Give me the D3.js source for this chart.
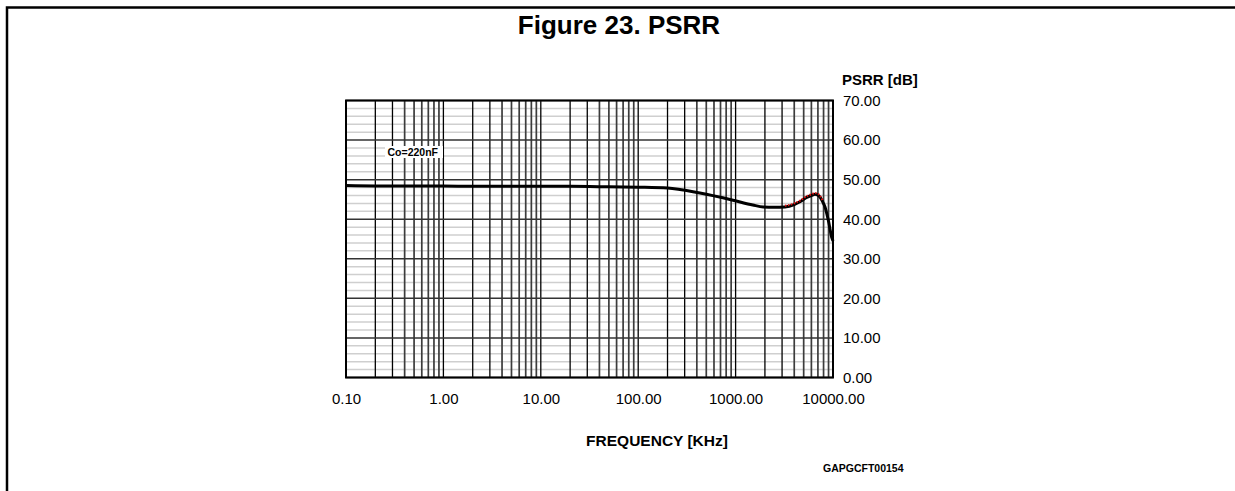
<!DOCTYPE html>
<html>
<head>
<meta charset="utf-8">
<script src="https://cdn.jsdelivr.net/npm/d3@7"></script>
<style>
  body { margin: 0; background: #fff; }
  svg { display: block; font-family: "Liberation Sans", Arial, sans-serif; }
</style>
</head>
<body>
<div id="chart"></div>
<script>
// curve (frequency in kHz, PSRR in dB)
var freq = [0.1, 0.2, 0.5, 1, 2, 5, 10, 20, 50, 100, 200, 430, 940, 1500, 1925, 2500, 3215, 4000, 4580, 5370, 6000, 6530, 7000, 7360, 7800, 8280, 8960, 9680, 10000];
var psrr = [48.5, 48.4, 48.4, 48.4, 48.3, 48.3, 48.3, 48.3, 48.2, 48.1, 47.9, 46.6, 44.8, 43.6, 43.1, 43.0, 43.1, 43.7, 44.4, 45.5, 46.0, 46.3, 46.1, 45.6, 44.5, 43.1, 39.7, 35.5, 34.5];
// red dotted piece laid over the peak
var redFreq = [3215, 4000, 4580, 5370, 6000, 6530, 7000, 7360, 7800];
var redPsrr = [43.4, 44.0, 44.7, 45.8, 46.3, 46.6, 46.4, 45.9, 44.8];

var xTicks = [0.1, 1, 10, 100, 1000, 10000];
var yTicks = [0, 10, 20, 30, 40, 50, 60, 70];

var W = 1235, H = 491;
var plot = {left: 346, right: 833, top: 100.5, bottom: 377.5};

var svg = d3.select("#chart").append("svg")
    .attr("width", W)
    .attr("height", H);

// page frame (left and top edges only)
svg.append("path")
    .attr("d", "M7,491 V7.5 H1235")
    .attr("fill", "none")
    .attr("stroke", "#000")
    .attr("stroke-width", 2.5);

svg.append("text")
    .attr("x", 619)
    .attr("y", 34)
    .attr("text-anchor", "middle")
    .style("font-size", "26px")
    .style("font-weight", "bold")
    .text("Figure 23. PSRR");

var x = d3.scaleLog().domain([0.1, 10000]).range([plot.left, plot.right]);
var y = d3.scaleLinear().domain([0, 70]).range([plot.bottom, plot.top]);

var grid = svg.append("g").attr("class", "grid");

// horizontal minor lines every 2 dB
d3.range(0, 71, 2).filter(function(v) { return v % 10 != 0; }).forEach(function(v) {
  grid.append("line")
      .attr("x1", plot.left).attr("x2", plot.right)
      .attr("y1", y(v)).attr("y2", y(v))
      .attr("stroke", "#cfcfcf")
      .attr("stroke-width", 1.5);
});

// vertical log lines
var vlines = [];
[0.1, 1, 10, 100, 1000].forEach(function(d) {
  for (var k = 1; k <= 9; k++) vlines.push({v: d * k, k: k});
});
vlines.forEach(function(l) {
  grid.append("line")
      .attr("x1", x(l.v)).attr("x2", x(l.v))
      .attr("y1", plot.top).attr("y2", plot.bottom)
      .attr("stroke", l.k <= 3 ? "#000" : "#3c3c3c")
      .attr("stroke-width", l.k <= 3 ? 1.3 : 1.7);
});

// horizontal major lines
yTicks.forEach(function(v) {
  grid.append("line")
      .attr("x1", plot.left).attr("x2", plot.right)
      .attr("y1", y(v)).attr("y2", y(v))
      .attr("stroke", "#333")
      .attr("stroke-width", 1.5);
});

svg.append("rect")
    .attr("x", plot.left)
    .attr("y", plot.top)
    .attr("width", plot.right - plot.left)
    .attr("height", plot.bottom - plot.top)
    .attr("fill", "none")
    .attr("stroke", "#000")
    .attr("stroke-width", 2);

// label box
svg.append("rect")
    .attr("x", 385).attr("y", 146)
    .attr("width", 58).attr("height", 12)
    .attr("fill", "#fff");
svg.append("text")
    .attr("x", 387.5)
    .attr("y", 155.5)
    .style("font-size", "10.5px")
    .style("font-weight", "bold")
    .text("Co=220nF");

var line = d3.line()
    .x(function(d) { return x(d[0]); })
    .y(function(d) { return y(d[1]); })
    .curve(d3.curveMonotoneX);

svg.append("path")
    .datum(d3.zip(freq, psrr))
    .attr("d", line)
    .attr("fill", "none")
    .attr("stroke", "#000")
    .attr("stroke-width", 3);

svg.append("path")
    .datum(d3.zip(redFreq, redPsrr))
    .attr("d", line)
    .attr("fill", "none")
    .attr("stroke", "#e01010")
    .attr("stroke-width", 2)
    .attr("stroke-dasharray", "1.5,1.5");

// axes
var xAxis = svg.append("g")
    .attr("transform", "translate(0," + plot.bottom + ")")
    .call(d3.axisBottom(x).tickValues(xTicks).tickSize(0).tickPadding(16).tickFormat(d3.format(".2f")));
xAxis.select(".domain").remove();
xAxis.selectAll("text")
    .attr("fill", "#000")
    .style("font-size", "15px")
    .style("font-family", "Liberation Sans, Arial, sans-serif");

var yAxis = svg.append("g")
    .attr("transform", "translate(" + plot.right + ",0)")
    .call(d3.axisRight(y).tickValues(yTicks).tickSize(0).tickPadding(10).tickFormat(d3.format(".2f")));
yAxis.select(".domain").remove();
yAxis.selectAll("text")
    .attr("fill", "#000")
    .style("font-size", "15px")
    .style("font-family", "Liberation Sans, Arial, sans-serif");

svg.append("text")
    .attr("x", 842)
    .attr("y", 85)
    .style("font-size", "15px")
    .style("font-weight", "bold")
    .text("PSRR [dB]");

svg.append("text")
    .attr("x", 657)
    .attr("y", 446)
    .attr("text-anchor", "middle")
    .style("font-size", "15.5px")
    .style("font-weight", "bold")
    .text("FREQUENCY [KHz]");

svg.append("text")
    .attr("x", 823)
    .attr("y", 471.5)
    .style("font-size", "10.5px")
    .style("font-weight", "bold")
    .text("GAPGCFT00154");
</script>
</body>
</html>
